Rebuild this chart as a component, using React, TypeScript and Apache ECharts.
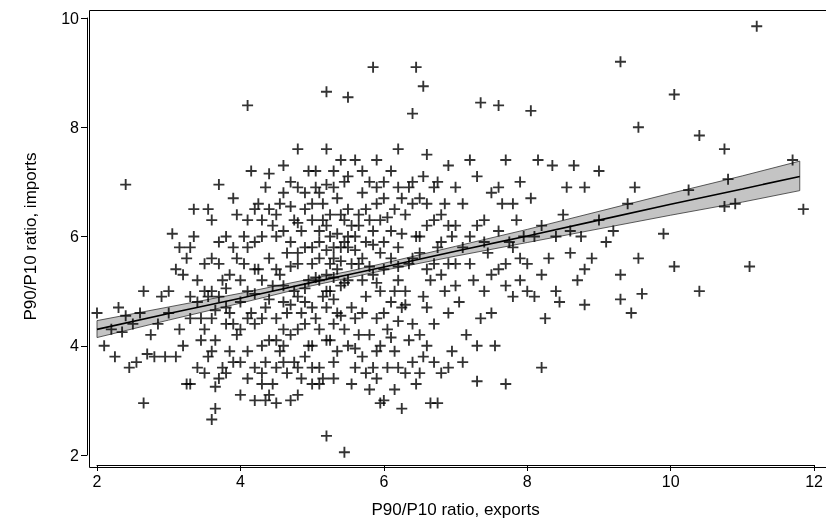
import React, { useEffect, useRef } from 'react';
import * as echarts from 'echarts';

// scatter points [exports ratio, imports ratio]
const points: number[][] = [
  [11.2,9.85],[9.3,9.2],[5.85,9.1],[6.45,9.1],[6.55,8.75],[5.2,8.65],[10.05,8.6],[5.5,8.55],[4.1,8.4],[7.35,8.45],[7.6,8.4],[8.05,8.3],[6.4,8.25],[9.55,8.0],[10.4,7.85],[10.75,7.6],[11.7,7.4],[10.8,7.05],[10.25,6.85],[10.9,6.6],[11.85,6.5],[10.75,6.55],[9.9,6.05],[10.05,5.45],[11.1,5.45],[9.55,5.6],[10.4,5.0],[9.6,4.95],[9.3,4.85],[9.45,4.6],[8.8,4.75],[8.2,3.6],[7.7,3.3],[7.3,3.35],[6.75,2.95],[6.65,2.95],[6.25,2.85],[5.95,2.95],[5.2,2.35],[5.45,2.05],[5.1,3.3],[3.6,2.65],[3.65,2.85],[2.65,2.95],[2.4,6.95],[2.0,4.6],[2.1,4.0],[2.2,4.3],[4.5,2.95],[4.2,3.0],[4.35,3.0],[4.8,3.1],
  [2.3,4.7],[2.4,4.55],[2.5,4.4],[2.45,3.6],[2.55,3.7],[2.6,4.6],[2.7,3.85],[2.8,3.8],[2.75,4.2],[2.9,4.9],[2.95,3.8],[2.35,4.25],[2.25,3.8],[2.85,4.4],[2.65,5.0],
  [3.0,4.6],[3.05,6.05],[3.1,5.4],[3.15,4.3],[3.2,4.0],[3.25,3.3],[3.3,3.3],[3.3,5.8],[3.35,6.5],[3.3,4.9],[3.4,5.2],[3.45,4.5],[3.4,3.6],[3.2,5.3],[3.1,3.8],[3.15,5.8],[3.35,6.0],[3.45,4.1],[3.0,5.0],[3.25,5.6],
  [3.5,5.5],[3.55,4.9],[3.6,3.9],[3.55,3.8],[3.65,4.1],[3.7,5.9],[3.7,6.95],[3.75,5.2],[3.8,6.0],[3.85,4.6],[3.9,3.7],[3.95,5.6],[3.95,6.4],[3.6,6.3],[3.65,4.65],[3.75,3.6],[3.8,4.4],[3.85,5.3],[3.9,6.7],[3.5,4.3],[3.6,5.0],[3.7,3.4],[3.85,3.9],[3.55,6.5],[3.95,4.2],[3.65,3.25],
  [4.0,4.8],[4.05,5.5],[4.1,6.3],[4.1,3.9],[4.15,7.2],[4.2,4.4],[4.2,5.9],[4.25,6.6],[4.3,3.5],[4.3,5.2],[4.35,4.7],[4.35,6.9],[4.4,5.6],[4.4,4.1],[4.45,6.2],[4.45,3.3],[4.0,3.1],[4.1,5.0],[4.2,6.5],[4.3,4.0],[4.4,7.15],[4.25,5.4],[4.15,4.6],[4.35,3.7],[4.45,5.1],[4.05,6.0],[4.3,6.0],[4.4,3.1],[4.2,3.6],
  [4.5,4.5],[4.5,6.0],[4.55,5.3],[4.55,3.9],[4.6,6.8],[4.6,4.8],[4.65,5.7],[4.65,3.5],[4.7,7.0],[4.7,4.2],[4.75,5.0],[4.75,6.3],[4.8,7.6],[4.8,5.5],[4.85,4.6],[4.85,3.4],[4.9,6.5],[4.9,5.8],[4.95,4.0],[4.95,5.2],[4.5,5.4],[4.6,4.3],[4.7,5.9],[4.8,4.9],[4.9,3.8],[4.55,6.6],[4.65,4.6],[4.75,3.7],[4.85,6.1],[4.95,7.2],[4.6,7.3],[4.7,3.0],[4.9,4.4],[4.8,6.9],
  [5.0,5.5],[5.0,6.3],[5.05,4.5],[5.05,7.2],[5.1,5.9],[5.1,3.6],[5.15,6.6],[5.15,4.9],[5.2,5.3],[5.2,7.6],[5.25,6.0],[5.25,4.1],[5.3,5.6],[5.3,6.9],[5.35,4.6],[5.35,3.9],[5.4,6.4],[5.4,5.1],[5.45,7.0],[5.45,4.3],[5.0,4.0],[5.1,5.2],[5.2,6.2],[5.3,4.4],[5.4,5.8],[5.05,6.9],[5.15,3.4],[5.25,5.5],[5.35,6.7],[5.45,5.9],[5.0,3.3],[5.2,4.7],[5.3,3.7],[5.4,7.4],[5.1,6.1],[5.25,5.0],[5.35,5.4],[5.45,6.3],[5.3,5.8],[5.2,5.75],
  [5.5,5.2],[5.5,6.5],[5.55,4.7],[5.55,3.3],[5.6,6.0],[5.6,7.4],[5.65,5.5],[5.65,4.2],[5.7,6.8],[5.7,3.8],[5.75,5.9],[5.75,4.9],[5.8,6.3],[5.8,7.0],[5.85,5.3],[5.85,3.6],[5.9,4.5],[5.9,6.6],[5.95,5.7],[5.95,4.0],[5.5,5.8],[5.6,4.5],[5.7,5.2],[5.8,3.2],[5.9,7.4],[5.55,6.2],[5.65,6.4],[5.75,3.5],[5.85,6.1],[5.95,5.0],
  [6.0,5.4],[6.0,6.7],[6.05,4.3],[6.05,3.6],[6.1,6.1],[6.1,7.2],[6.15,5.0],[6.15,3.9],[6.2,5.8],[6.2,7.6],[6.25,4.7],[6.3,6.4],[6.3,3.5],[6.35,5.5],[6.4,7.0],[6.4,4.4],[6.45,6.0],[6.45,3.3],[6.0,3.0],[6.1,4.8],[6.2,5.2],[6.3,5.0],[6.35,6.9],[6.4,5.6],[6.25,6.7],[6.15,3.2],[6.35,4.1],
  [6.5,5.7],[6.5,6.7],[6.55,4.9],[6.55,3.8],[6.6,6.2],[6.6,7.5],[6.65,5.2],[6.7,4.4],[6.7,6.9],[6.75,5.8],[6.8,3.5],[6.8,6.4],[6.85,5.0],[6.9,7.3],[6.9,4.6],[6.95,6.0],[6.6,4.0],[6.7,5.5],[6.8,5.3],[6.95,3.9],[6.55,7.1],[6.85,6.6],
  [7.0,5.5],[7.05,4.8],[7.1,6.6],[7.15,4.2],[7.2,6.0],[7.25,5.2],[7.3,7.1],[7.35,4.5],[7.4,6.3],[7.45,5.7],[7.5,6.8],[7.55,4.0],[7.6,5.4],[7.65,6.6],[7.7,7.4],[7.75,5.9],[7.8,4.9],[7.85,6.3],[7.9,5.2],[7.95,6.0],[7.1,3.7],[7.3,4.0],[7.5,4.6],[7.7,5.5],[7.2,7.4],[7.4,5.0],[7.6,6.9],[7.9,7.0],[7.0,6.2],[7.8,5.8],
  [8.0,5.5],[8.05,6.7],[8.1,4.9],[8.15,7.4],[8.2,6.2],[8.3,5.6],[8.35,7.3],[8.4,5.0],[8.5,6.4],[8.6,5.7],[8.65,7.3],[8.7,5.2],[8.8,6.9],[8.9,5.6],[9.0,6.3],[9.1,5.9],[9.2,6.1],[9.3,5.3],[9.4,6.6],[8.45,4.8],[8.55,6.9],[8.75,6.0],[8.25,4.5],[9.0,7.2],[9.5,6.9],[8.1,6.0],
  // denser core of the cloud
  [4.6,5.1],[4.7,5.45],[4.8,5.7],[4.9,5.05],[5.0,5.8],[5.05,5.25],[5.1,5.6],[5.15,6.3],[5.2,5.0],[5.25,6.4],[5.3,5.25],[5.35,6.05],[5.4,5.55],[5.45,5.15],[5.5,6.0],[5.55,5.5],[5.6,5.75],[5.65,6.2],[5.7,5.6],[5.75,6.5],[5.8,5.45],[5.85,5.85],[5.9,5.15],[5.95,6.3],[6.0,5.9],[6.05,6.35],[6.1,5.6],[6.15,6.5],[6.2,5.45],[6.25,6.05],
  [4.0,4.3],[4.1,4.5],[4.2,4.95],[4.3,4.5],[4.4,4.85],[4.5,4.1],[4.6,4.0],[4.7,4.75],[4.8,4.3],[4.9,4.8],[5.0,4.7],[5.1,4.3],[5.2,4.1],[5.3,4.85],[5.4,4.55],[5.5,4.0],[5.6,3.95],[5.7,4.6],[5.8,4.2],[5.9,3.9],[6.0,4.6],[6.1,4.15],[6.2,4.45],[6.3,4.75],[6.4,3.7],[6.5,4.2],[6.6,4.7],[6.7,3.7],
  [3.6,5.6],[3.7,5.5],[3.8,5.05],[3.9,5.8],[4.0,5.2],[4.1,5.8],[4.2,5.4],[4.3,6.3],[4.4,6.5],[4.5,6.4],[4.6,6.1],[4.7,6.55],[4.8,6.25],[4.9,6.8],[5.0,6.6],[5.1,6.8],[5.2,6.95],[5.3,7.2],[5.5,7.1],[5.7,7.2],[5.9,6.9],[6.0,7.0],[6.2,6.9],[6.4,6.6],[6.6,6.6],[6.75,7.0],[6.9,6.2],[7.0,6.9],
  [3.3,4.5],[3.4,4.8],[3.5,5.0],[3.6,4.5],[3.7,4.9],[3.8,4.7],[3.9,4.4],[3.5,3.5],[3.8,3.5],[4.0,3.7],[4.1,3.4],[4.3,3.3],[4.5,3.6],[4.6,3.7],[4.8,3.6],[5.0,3.6],[5.3,3.4],[5.6,3.6],[5.9,3.4],[6.2,3.6],[6.5,3.5],[6.9,3.6],
  [6.5,6.0],[6.6,5.4],[6.7,6.3],[6.8,5.9],[6.9,5.5],[7.0,5.1],[7.1,5.8],[7.2,5.5],[7.3,6.2],[7.4,5.9],[7.5,5.3],[7.6,6.1],[7.7,5.1],[7.8,6.6],[7.9,5.6],[8.0,5.0],[8.2,5.3],[8.4,6.0],[8.6,6.1],[8.8,5.4],
];

// fitted line and confidence band
const fitX = [2, 3, 4, 5, 5.5, 6, 7, 8, 9, 10, 11, 11.8];
const fitY = [4.3, 4.59, 4.87, 5.16, 5.3, 5.44, 5.73, 6.01, 6.3, 6.59, 6.87, 7.1];
const fitLo = [4.15, 4.47, 4.78, 5.1, 5.24, 5.38, 5.64, 5.89, 6.14, 6.39, 6.63, 6.84];
const fitHi = [4.46, 4.71, 4.96, 5.23, 5.36, 5.51, 5.82, 6.13, 6.46, 6.79, 7.11, 7.38];

const xTicks = [2, 4, 6, 8, 10, 12];
const yTicks = [2, 4, 6, 8, 10];

const plus = 'path://M4.15,0H5.85V4.15H10V5.85H5.85V10H4.15V5.85H0V4.15H4.15Z';

const App: React.FC = () => {
  const ref = useRef<HTMLDivElement>(null);

  useEffect(() => {
    if (!ref.current) return;
    const chart = echarts.init(ref.current, undefined, { renderer: 'svg' });
    const font = 'Liberation Sans, Arial, sans-serif';
    const axisCommon = {
      type: 'value' as const,
      offset: 10,
      interval: 2,
      splitLine: { show: false },
      axisLine: { show: true, lineStyle: { color: '#000', width: 1 } },
      axisTick: { show: true, length: 6, lineStyle: { color: '#000' } },
      axisLabel: { color: '#000', fontSize: 16, fontFamily: font },
      nameLocation: 'middle' as const,
      nameTextStyle: { color: '#000', fontSize: 17, fontFamily: font },
    };
    chart.setOption({
      animation: false,
      grid: { left: 97, right: 9, top: 18, bottom: 74 },
      xAxis: { ...axisCommon, min: 2, max: 12, name: 'P90/P10 ratio, exports', nameGap: 36,
        axisLabel: { ...axisCommon.axisLabel, customValues: xTicks } },
      yAxis: { ...axisCommon, min: 2, max: 10, name: 'P90/P10 ratio, imports', nameGap: 48,
        axisLabel: { ...axisCommon.axisLabel, customValues: yTicks } },
      graphic: [{
        type: 'rect', left: 87, top: 8, shape: { width: 738, height: 457 },
        style: { fill: 'none', stroke: '#000', lineWidth: 1 }, silent: true,
      }],
      series: [
        {
          type: 'custom', data: [[0]], z: 1, silent: true,
          renderItem: (_p: any, api: any) => {
            const upper = fitX.map((x, i) => api.coord([x, fitHi[i]]));
            const lower = fitX.map((x, i) => api.coord([x, fitLo[i]])).reverse();
            return {
              type: 'polygon',
              shape: { points: upper.concat(lower) },
              style: { fill: '#c4c4c4', stroke: '#333', lineWidth: 0.8 },
            };
          },
        },
        {
          type: 'scatter', data: points, symbol: plus, symbolSize: 11,
          itemStyle: { color: '#000' }, z: 3,
        },
        {
          type: 'line', data: fitX.map((x, i) => [x, fitY[i]]), symbol: 'none',
          lineStyle: { color: '#000', width: 1.6 }, z: 4,
        },
      ],
    });
    return () => chart.dispose();
  }, []);

  return <div ref={ref} style={{ position: 'fixed', left: 0, top: 0, width: 826, height: 529 }} />;
};

export default App;
